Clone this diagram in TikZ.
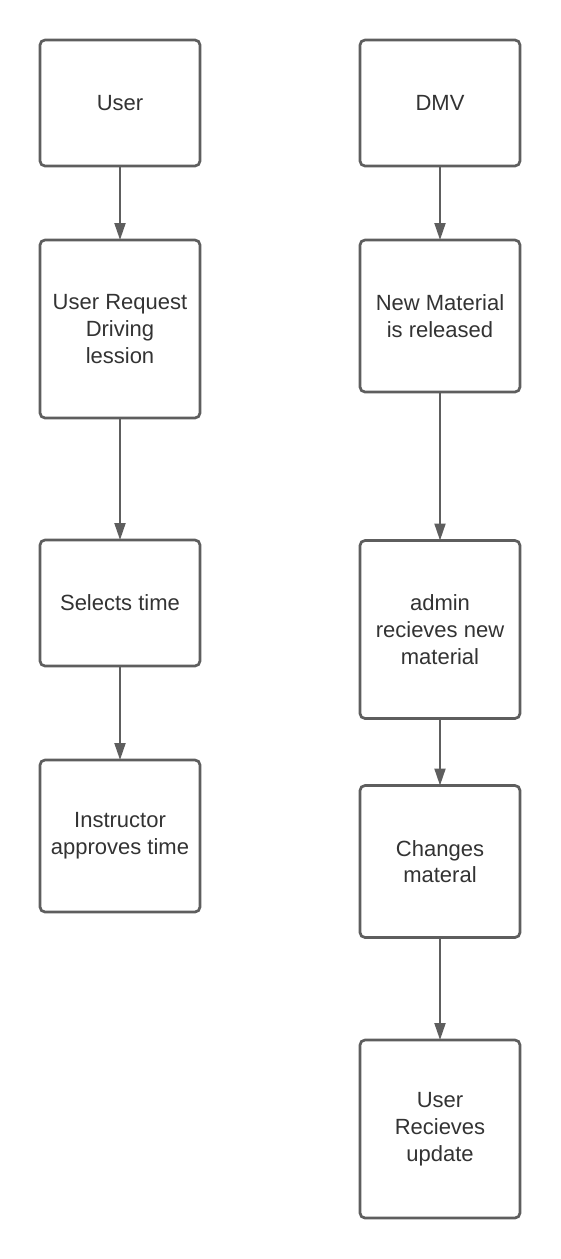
\documentclass[tikz,border=0pt]{standalone}
\usepackage{fontspec}
\setmainfont{Liberation Sans}
\usetikzlibrary{arrows.meta}
\definecolor{boxline}{HTML}{5E5E5E}
\definecolor{txt}{HTML}{333333}
\tikzset{
  flowbox/.style={draw=boxline, line width=2.7pt, rounded corners=5pt, fill=white,
    minimum width=160pt, inner sep=0pt, outer sep=0pt, align=center,
    text=txt, font=\fontsize{22}{26.7}\selectfont},
  flowarrow/.style={draw=boxline, line width=2pt, -{Triangle[length=17pt, width=11pt]}}
}
\begin{document}
\begin{tikzpicture}[x=1pt, y=-1pt]
\fill[white] (0,0) rectangle (560,1259);
\useasboundingbox (0,0) rectangle (560,1259);
% left column
\node[flowbox, minimum height=126pt] (user) at (120,103) {User};
\node[flowbox, minimum height=178pt] (req) at (120,329) {User Request\\Driving\\lession};
\node[flowbox, minimum height=126pt] (sel) at (120,603) {Selects time};
\node[flowbox, minimum height=152pt] (inst) at (120,836) {Instructor\\approves time};
% right column
\node[flowbox, minimum height=126pt] (dmv) at (440,103) {DMV};
\node[flowbox, minimum height=152pt] (newm) at (440,316) {New Material\\is released};
\node[flowbox, minimum height=178pt] (admin) at (440,629.5) {admin\\recieves new\\material};
\node[flowbox, minimum height=152pt] (chg) at (440,861.5) {Changes\\materal};
\node[flowbox, minimum height=178pt] (upd) at (440,1129) {User\\Recieves\\update};
% arrows
\draw[flowarrow] (user.south) -- (req.north);
\draw[flowarrow] (req.south) -- (sel.north);
\draw[flowarrow] (sel.south) -- (inst.north);
\draw[flowarrow] (dmv.south) -- (newm.north);
\draw[flowarrow] (newm.south) -- (admin.north);
\draw[flowarrow] (admin.south) -- (chg.north);
\draw[flowarrow] (chg.south) -- (upd.north);
\end{tikzpicture}
\end{document}
